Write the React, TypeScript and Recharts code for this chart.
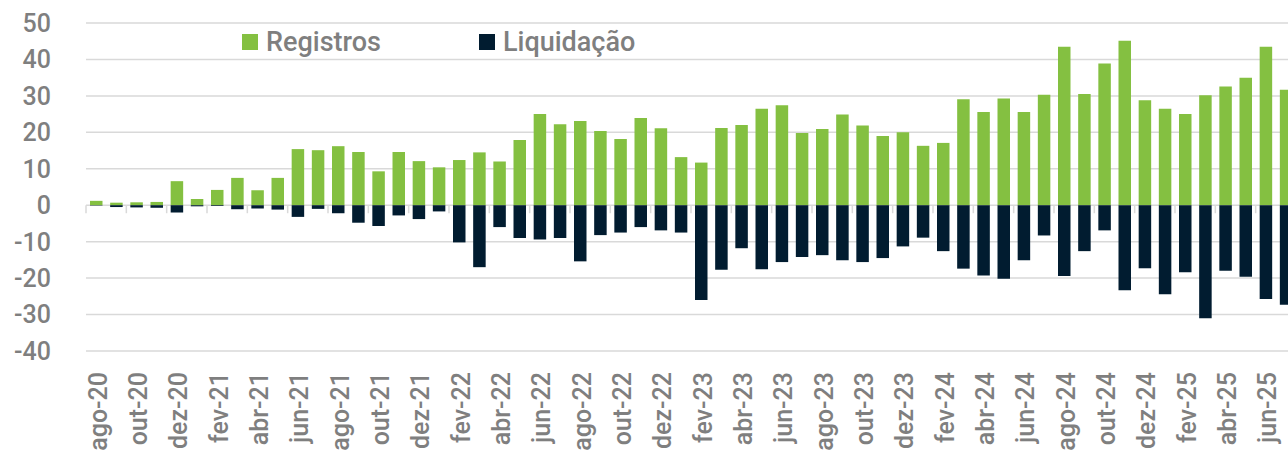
import React from "react";
import { BarChart, Bar, XAxis, YAxis, CartesianGrid, Legend } from "recharts";

const months = [
  "ago-20","set-20","out-20","nov-20","dez-20","jan-21","fev-21","mar-21","abr-21","mai-21","jun-21","jul-21",
  "ago-21","set-21","out-21","nov-21","dez-21","jan-22","fev-22","mar-22","abr-22","mai-22","jun-22","jul-22",
  "ago-22","set-22","out-22","nov-22","dez-22","jan-23","fev-23","mar-23","abr-23","mai-23","jun-23","jul-23",
  "ago-23","set-23","out-23","nov-23","dez-23","jan-24","fev-24","mar-24","abr-24","mai-24","jun-24","jul-24",
  "ago-24","set-24","out-24","nov-24","dez-24","jan-25","fev-25","mar-25","abr-25","mai-25","jun-25","jul-25",
];

const registros = [
  1.2, 0.7, 0.8, 0.9, 6.6, 1.7, 4.2, 7.5, 4.1, 7.5, 15.4, 15.1,
  16.2, 14.6, 9.3, 14.6, 12.1, 10.4, 12.4, 14.5, 12.0, 17.9, 25.0, 22.2,
  23.1, 20.4, 18.2, 23.9, 21.1, 13.2, 11.7, 21.2, 22.0, 26.5, 27.4, 19.8,
  20.9, 24.9, 21.9, 19.0, 20.0, 16.3, 17.1, 29.1, 25.6, 29.3, 25.6, 30.3,
  43.5, 30.5, 38.9, 45.1, 28.8, 26.5, 25.0, 30.2, 32.6, 35.0, 43.5, 31.7,
];

const liquidacao = [
  -0.1, -0.5, -0.6, -0.7, -2.0, -0.3, -0.2, -1.1, -0.9, -1.2, -3.2, -1.0,
  -2.2, -4.8, -5.7, -2.8, -3.8, -1.7, -10.2, -17.0, -6.0, -9.0, -9.4, -9.0,
  -15.4, -8.2, -7.5, -6.0, -6.9, -7.5, -26.0, -17.7, -11.8, -17.6, -15.6, -14.2,
  -13.7, -15.1, -15.6, -14.5, -11.3, -8.9, -12.6, -17.4, -19.3, -20.2, -15.1, -8.3,
  -19.4, -12.6, -6.9, -23.3, -17.3, -24.4, -18.4, -31.0, -18.0, -19.6, -25.7, -27.3,
];

const seriesNames = ["Registros", "Liquidação"];
const yTicks = [-40, -30, -20, -10, 0, 10, 20, 30, 40, 50];

const data = months.map((m, i) => ({ month: m, Registros: registros[i], "Liquidação": liquidacao[i] }));

const GREEN = "#84C041";
const NAVY = "#011C30";
const TEXT = "#7F7F7F";
const GRID = "#D9D9D9";
const FONT = "Roboto, 'Liberation Sans', Arial, sans-serif";
const WEIGHT = 500;

const CHART_W = 1310;
const CHART_H = 451;
const M_TOP = 23;
const M_RIGHT = 14;
const Y_W = 86;
const X_H = 100;
const PLOT_W = CHART_W - M_RIGHT - Y_W;
const PLOT_H = CHART_H - M_TOP - X_H;
const Y_MIN = -40;
const Y_MAX = 50;
const CAT_W = PLOT_W / months.length;
const ZERO_Y = M_TOP + (Y_MAX / (Y_MAX - Y_MIN)) * PLOT_H;

const XTick = (props: any) => {
  const { x, y, payload } = props;
  const bx = x - CAT_W / 2;
  const ty = y + 13;
  const tx = x + 2;
  return (
    <g>
      <line x1={bx} x2={bx} y1={ZERO_Y} y2={ZERO_Y + 8} stroke={GRID} strokeWidth={1.5} />
      <text
        x={tx}
        y={ty}
        transform={`rotate(-90, ${tx}, ${ty})`}
        textAnchor="end"
        dominantBaseline="central"
        fill={TEXT}
        fontSize={25}
        fontWeight={WEIGHT}
        fontFamily={FONT}
      >
        {payload.value}
      </text>
    </g>
  );
};

const renderLegend = (props: any) => {
  const payload = [...(props.payload || [])].sort(
    (a: any, b: any) => seriesNames.indexOf(a.value) - seriesNames.indexOf(b.value)
  );
  return (
    <div style={{ display: "flex", alignItems: "center", fontFamily: FONT, fontWeight: WEIGHT, fontSize: 27, color: TEXT }}>
      {payload.map((p: any, i: number) => (
        <div key={p.value} style={{ display: "flex", alignItems: "center", marginRight: i === 0 ? 98 : 0 }}>
          <span style={{ display: "inline-block", width: 16, height: 16, background: p.color, marginRight: 8 }} />
          <span style={{ lineHeight: "28px" }}>{p.value}</span>
        </div>
      ))}
    </div>
  );
};

export default function App() {
  return (
    <div style={{ position: "absolute", left: 0, top: 0, width: 1288, height: 451, overflow: "hidden", background: "#fff" }}>
      <BarChart
        width={CHART_W}
        height={CHART_H}
        data={data}
        stackOffset="sign"
        barSize={12.5}
        margin={{ top: M_TOP, right: M_RIGHT, left: 0, bottom: 0 }}
      >
        <CartesianGrid horizontal vertical={false} stroke={GRID} strokeWidth={1.5} />
        <XAxis
          dataKey="month"
          interval={1}
          height={X_H}
          axisLine={false}
          tickLine={false}
          tick={<XTick />}
        />
        <YAxis
          domain={[Y_MIN, Y_MAX]}
          ticks={yTicks}
          width={Y_W}
          axisLine={false}
          tickLine={false}
          tickSize={0}
          tickMargin={35}
          tick={{ fill: TEXT, fontSize: 25, fontWeight: WEIGHT, fontFamily: FONT }}
          interval={0}
        />
        <Legend
          layout="horizontal"
          verticalAlign="middle"
          align="center"
          content={renderLegend}
          wrapperStyle={{ position: "absolute", top: 28, left: 242, width: "auto" }}
        />
        <Bar dataKey="Registros" stackId="a" fill={GREEN} isAnimationActive={false} />
        <Bar dataKey="Liquidação" stackId="a" fill={NAVY} isAnimationActive={false} />
      </BarChart>
    </div>
  );
}
